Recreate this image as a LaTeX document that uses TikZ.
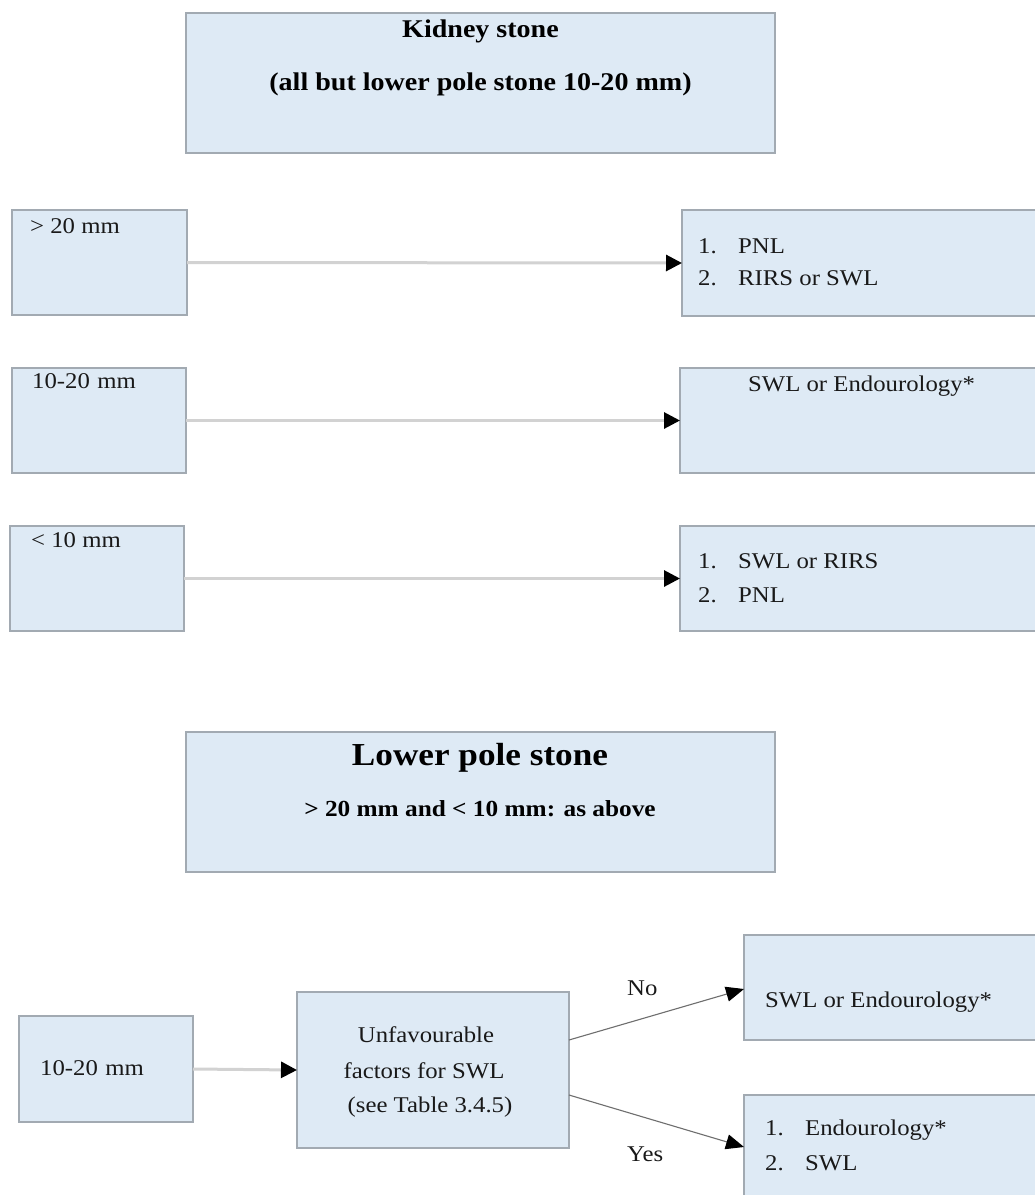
\documentclass[tikz,border=0pt]{standalone}
\usepackage{fontspec}
\setmainfont{Liberation Serif}[FakeStretch=1.1]
\usetikzlibrary{arrows.meta}
\definecolor{boxfill}{HTML}{DEEAF5}
\definecolor{boxline}{HTML}{A2AAB2}
\definecolor{connline}{HTML}{D2D2D2}
\definecolor{diagline}{HTML}{6E6E6E}
\begin{document}
\begin{tikzpicture}[x=1pt,y=-1pt,
  box/.style={draw=boxline, line width=1.3pt, fill=boxfill, rectangle, inner sep=0pt, outer sep=0pt, anchor=north west},
  txt/.style={anchor=base west, inner sep=0pt, font=\fontsize{22.5}{26}\selectfont, text=black!90},
  ctxt/.style={anchor=base, inner sep=0pt, font=\fontsize{22.5}{26}\selectfont, text=black!90},
  ttl/.style={anchor=base, inner sep=0pt, font=\bfseries\fontsize{25.5}{30}\selectfont},
  bigttl/.style={anchor=base, inner sep=0pt, font=\bfseries\fontsize{32}{38}\selectfont},
  subttl/.style={anchor=base, inner sep=0pt, font=\bfseries\fontsize{23}{28}\selectfont},
  hconn/.style={draw=connline, line width=3pt, -{Triangle[length=16pt,width=16pt,color=black,fill=black]}},
  dconn/.style={draw=diagline, line width=1.1pt, -{Triangle[length=18pt,width=15pt,color=black,fill=black]}}
]
\path[use as bounding box, clip] (0,0) rectangle (1035,1195);
\fill[white] (0,0) rectangle (1035,1195);

% top title
\node[box, minimum width=589pt, minimum height=140pt] (kid) at (186,13) {};
\node[ttl] (kidt1) at (480.5,37) {Kidney stone};
\node[ttl] (kidt2) at (480.5,90) {(all but lower pole stone 10-20 mm)};

% left boxes
\node[box, minimum width=175pt, minimum height=105pt] (gt) at (12,210) {};
\node[box, minimum width=174pt, minimum height=105pt] (mid) at (12,368) {};
\node[box, minimum width=174pt, minimum height=105pt] (lt) at (10,526) {};
\node[txt] (gtt) at (30,233) {> 20 mm};
\node[txt] (midt) at (32,388) {10-20\,\,mm};
\node[txt] (ltt) at (31,547) {< 10 mm};

% right boxes
\node[box, minimum width=360pt, minimum height=106pt] (r1) at (682,210) {};
\node[box, minimum width=362pt, minimum height=105pt] (r2) at (680,368) {};
\node[box, minimum width=362pt, minimum height=105pt] (r3) at (680,526) {};
\node[txt] (r1n1) at (698,253) {1.};
\node[txt] (r1i1) at (738,253) {PNL};
\node[txt] (r1n2) at (698,285) {2.};
\node[txt] (r1i2) at (738,285) {RIRS or SWL};
\node[txt] (r2t) at (748,391) {SWL or Endourology*};
\node[txt] (r3n1) at (698,568) {1.};
\node[txt] (r3i1) at (738,568) {SWL or RIRS};
\node[txt] (r3n2) at (698,602) {2.};
\node[txt] (r3i2) at (738,602) {PNL};

\draw[hconn] (gt.east) -- (r1.west);
\draw[hconn] (mid.east) -- (r2.west);
\draw[hconn] (lt.east) -- (r3.west);

% lower pole title
\node[box, minimum width=589pt, minimum height=140pt] (low) at (186,732) {};
\node[bigttl] (lowt1) at (480,765) {Lower pole stone};
\node[subttl] (lowt2) at (480,816) {> 20 mm and < 10 mm: as above};

% bottom flow
\node[box, minimum width=174pt, minimum height=106pt] (b1) at (19,1016) {};
\node[txt] (b1t) at (40,1075) {10-20\,\,mm};
\node[box, minimum width=272pt, minimum height=156pt] (unf) at (297,992) {};
\node[ctxt] (unft1) at (426,1042) {Unfavourable};
\node[ctxt] (unft2) at (424,1078) {factors for SWL};
\node[ctxt] (unft3) at (430,1112) {(see Table 3.4.5)};

\node[box, minimum width=300pt, minimum height=105pt] (no) at (744,935) {};
\node[txt] (not) at (765,1007) {SWL or Endourology*};
\node[box, minimum width=300pt, minimum height=120pt] (yes) at (744,1095) {};
\node[txt] (yesn1) at (765,1135) {1.};
\node[txt] (yesi1) at (805,1135) {Endourology*};
\node[txt] (yesn2) at (765,1170) {2.};
\node[txt] (yesi2) at (805,1170) {SWL};

\draw[hconn] (b1.east) -- (unf.west);
\draw[dconn] ([yshift=30pt]unf.east) -- ([yshift=-1.5pt]no.west);
\draw[dconn] ([yshift=-25pt]unf.east) -- ([yshift=8pt]yes.west);
\node[txt] (nol) at (627,995) {No};
\node[txt] (yesl) at (627,1161) {Yes};
\end{tikzpicture}
\end{document}
